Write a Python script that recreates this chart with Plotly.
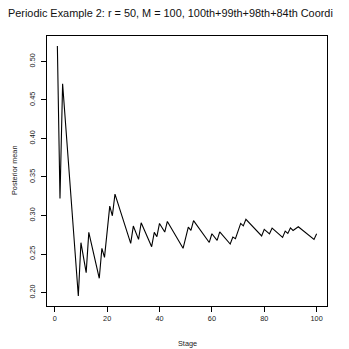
import plotly.graph_objects as go

# Data (vertices of the line)
stage = [1, 2, 3, 9, 10, 12, 13, 17, 18, 19, 21, 22, 23, 29, 30, 32, 33,
         37, 38, 39, 40, 42, 43, 49, 51, 52, 53, 59, 60, 62, 63,
         67, 68, 69, 71, 72, 73, 79, 80, 82, 83, 87, 88, 89, 90, 91, 93, 99, 100]
posterior_mean = [0.520, 0.322, 0.471, 0.1955, 0.2647, 0.2258, 0.2781, 0.2185, 0.2574, 0.2457,
                  0.3122, 0.2996, 0.3277, 0.2638, 0.2863, 0.2690, 0.2906,
                  0.2595, 0.2781, 0.2725, 0.2897, 0.2785, 0.2923, 0.2574, 0.2850, 0.2806, 0.2934,
                  0.2650, 0.2763, 0.2677, 0.2787,
                  0.2630, 0.2720, 0.2698, 0.2897, 0.2865, 0.2951, 0.2735, 0.2820, 0.2762, 0.2836,
                  0.2716, 0.2798, 0.2768, 0.2839, 0.2806, 0.2854, 0.2690, 0.2763]
x_ticks = [0, 20, 40, 60, 80, 100]
y_ticks = [0.20, 0.25, 0.30, 0.35, 0.40, 0.45, 0.50]
y_tick_text = ["0.20", "0.25", "0.30", "0.35", "0.40", "0.45", "0.50"]
title_text = "Periodic Example 2: r = 50, M = 100, 100th+99th+98th+84th Coordi"

FONT = "Liberation Sans, Arial, Helvetica, sans-serif"

def r_range(lo, hi):
    pad = (hi - lo) * 0.04
    return [lo - pad, hi + pad]

fig = go.Figure()
fig.add_trace(go.Scatter(x=stage, y=posterior_mean, mode="lines",
                         line=dict(color="black", width=1.1), hoverinfo="skip"))

fig.update_layout(
    width=349, height=349,
    margin=dict(l=47, r=22, t=36, b=43),
    paper_bgcolor="white", plot_bgcolor="white",
    showlegend=False,
    font=dict(family=FONT, color="black", size=7),
)
fig.update_xaxes(range=r_range(1, 100), tickvals=x_ticks, ticks="outside", ticklen=5,
                 tickcolor="black", tickwidth=1, showline=True, mirror=True,
                 linecolor="black", linewidth=1, showgrid=False, zeroline=False,
                 tickfont=dict(size=7.3, family=FONT, color="#222"))
fig.update_yaxes(range=r_range(min(posterior_mean), max(posterior_mean)), tickvals=y_ticks,
                 ticktext=y_tick_text, tickangle=-90, ticks="outside", ticklen=5,
                 ticklabelstandoff=3,
                 tickcolor="black", tickwidth=1, showline=True, mirror=True,
                 linecolor="black", linewidth=1, showgrid=False, zeroline=False,
                 tickfont=dict(size=7.3, family=FONT, color="#222"))

fig.add_annotation(text=title_text, xref="paper", yref="paper", x=0, y=1,
                   xshift=-41, yshift=23, xanchor="left", yanchor="middle",
                   showarrow=False, font=dict(size=10.9, family=FONT, color="#111"))
fig.add_annotation(text="Stage", xref="paper", yref="paper", x=0.5, y=0,
                   yshift=-37, xanchor="center", yanchor="middle",
                   showarrow=False, font=dict(size=7.3, family=FONT, color="#222"))
fig.add_annotation(text="Posterior mean", xref="paper", yref="paper", x=0, y=0.5,
                   xshift=-33, xanchor="center", yanchor="middle", textangle=-90,
                   showarrow=False, font=dict(size=7.3, family=FONT, color="#222"))

fig.write_html("out.html",
               config={"displayModeBar": False, "staticPlot": True},
               post_script="document.body.style.margin='0';document.body.style.overflow='hidden';")
